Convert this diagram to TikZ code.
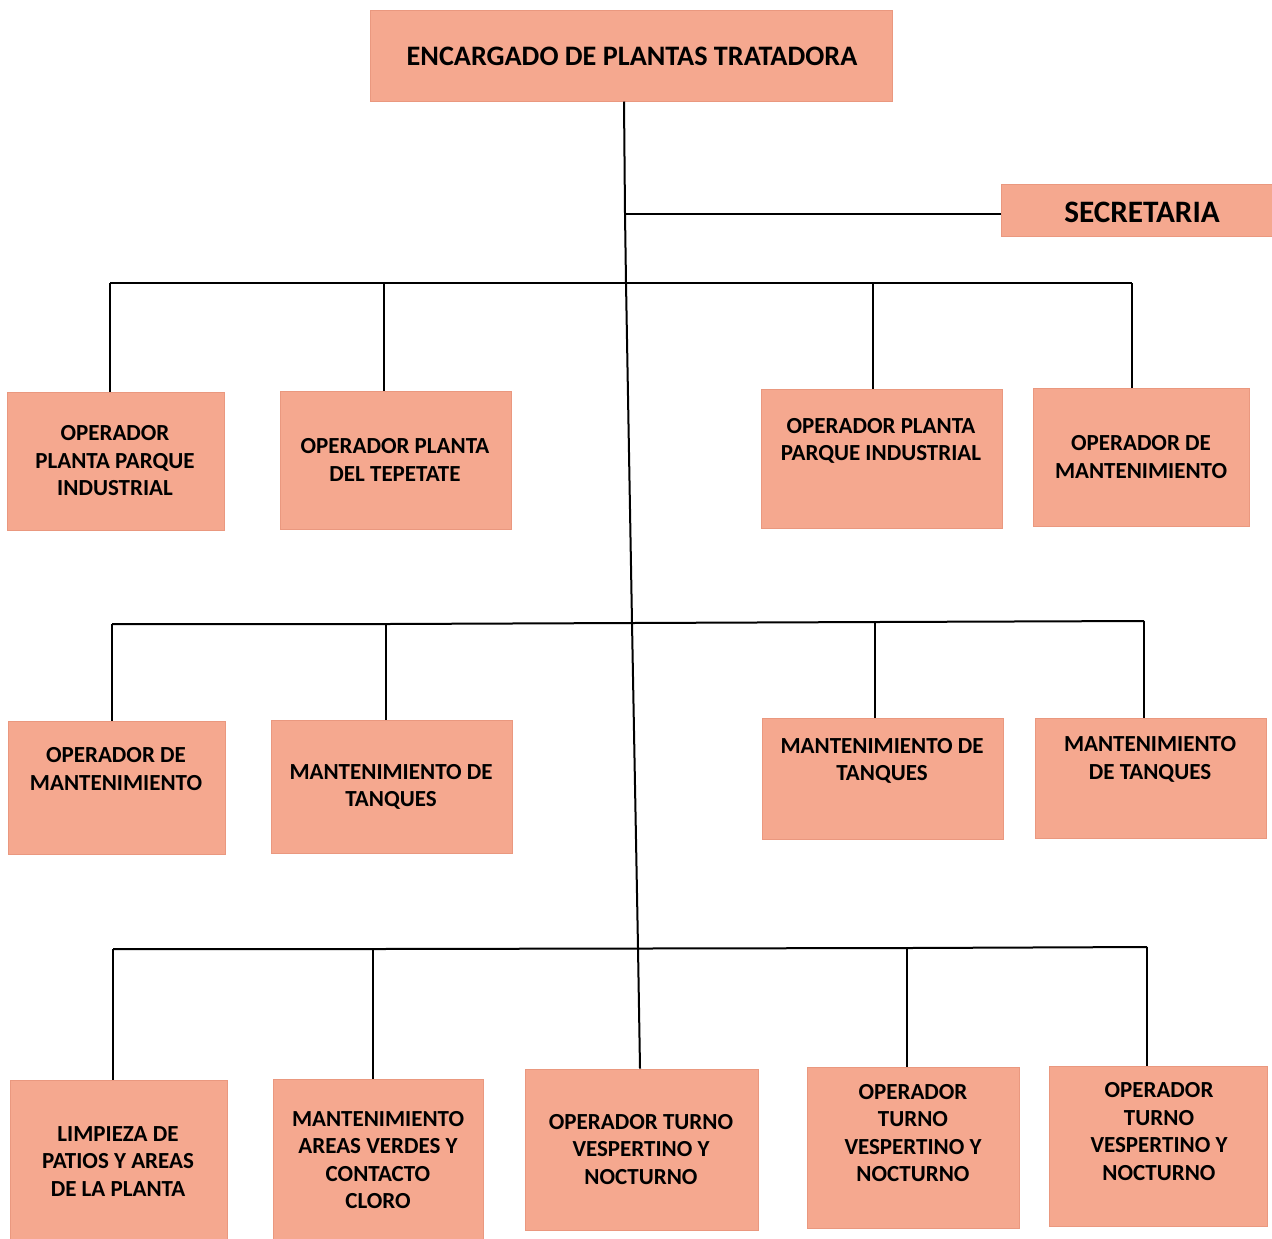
\documentclass[tikz,border=0pt]{standalone}
\usepackage{fontspec}
\setmainfont{Carlito}
\definecolor{boxfill}{RGB}{245,168,143}
\definecolor{boxline}{RGB}{234,152,127}
\begin{document}
\begin{tikzpicture}[x=0.5pt,y=-0.5pt,
  box/.style={draw=boxline, line width=0.5pt, fill=boxfill, rectangle, inner sep=0pt},
  lbl/.style={align=center, font=\bfseries\fontsize{11.5}{13.75}\selectfont, inner sep=0pt},
  big/.style={align=center, font=\bfseries\fontsize{14.1}{17}\selectfont, inner sep=0pt},
  bigger/.style={align=center, font=\bfseries\fontsize{15.6}{18}\selectfont, inner sep=0pt},
  conn/.style={line width=1pt, black}]
\useasboundingbox[fill=white] (0,0) rectangle (1272,1238);
% boxes
\node[box, minimum width=261pt, minimum height=45.5pt] (top) at (631,55.5) {};
\node[big] (ttop) at (632,56) {ENCARGADO DE PLANTAS TRATADORA};
\node[box, minimum width=135.5pt, minimum height=26pt] (sec) at (1136.5,210) {};
\node[bigger] (tsec) at (1142,212) {SECRETARIA};
% row 1
\node[box, minimum width=108.5pt, minimum height=69pt] (A) at (115.5,461) {};
\node[lbl] (tA) at (115,461) {OPERADOR\\PLANTA PARQUE\\INDUSTRIAL};
\node[box, minimum width=115.5pt, minimum height=69pt] (B) at (395.5,460) {};
\node[lbl] (tB) at (395,460) {OPERADOR PLANTA\\DEL TEPETATE};
\node[box, minimum width=120.5pt, minimum height=69.5pt] (C) at (881.5,458.5) {};
\node[lbl] (tC) at (881,441) {OPERADOR PLANTA\\PARQUE INDUSTRIAL};
\node[box, minimum width=108pt, minimum height=69pt] (D) at (1141,457) {};
\node[lbl] (tD) at (1141,457) {OPERADOR DE\\MANTENIMIENTO};
% row 2
\node[box, minimum width=108.5pt, minimum height=66.5pt] (E) at (116.5,787.5) {};
\node[lbl] (tE) at (116,769) {OPERADOR DE\\MANTENIMIENTO};
\node[box, minimum width=120.5pt, minimum height=66.5pt] (F) at (391.5,786.5) {};
\node[lbl] (tF) at (391,787) {MANTENIMIENTO DE\\TANQUES};
\node[box, minimum width=120.5pt, minimum height=60.5pt] (G) at (882.5,778.5) {};
\node[lbl] (tG) at (882,761) {MANTENIMIENTO DE\\TANQUES};
\node[box, minimum width=115.5pt, minimum height=60pt] (H) at (1150.5,778) {};
\node[lbl] (tH) at (1150,759.5) {MANTENIMIENTO\\DE TANQUES};
% row 3
\node[box, minimum width=108.5pt, minimum height=80pt] (I) at (118.5,1160) {};
\node[lbl] (tI) at (118,1161.5) {LIMPIEZA DE\\PATIOS Y AREAS\\DE LA PLANTA};
\node[box, minimum width=105pt, minimum height=80.5pt] (J) at (378,1159.5) {};
\node[lbl] (tJ) at (378,1160) {MANTENIMIENTO\\AREAS VERDES Y\\CONTACTO\\CLORO};
\node[box, minimum width=116.5pt, minimum height=80.5pt] (K) at (641.5,1149.5) {};
\node[lbl] (tK) at (641,1149.5) {OPERADOR TURNO\\VESPERTINO Y\\NOCTURNO};
\node[box, minimum width=106pt, minimum height=80.5pt] (L) at (913,1147.5) {};
\node[lbl] (tL) at (913,1133) {OPERADOR\\TURNO\\VESPERTINO Y\\NOCTURNO};
\node[box, minimum width=109pt, minimum height=80pt] (M) at (1158,1146) {};
\node[lbl] (tM) at (1159,1131.5) {OPERADOR\\TURNO\\VESPERTINO Y\\NOCTURNO};
% trunk
\coordinate (t0) at (624,101);
\coordinate (t1) at (625,214);
\coordinate (t2) at (626,283);
\coordinate (t3) at (632,623);
\coordinate (t4) at (638,948);
\coordinate (t5) at (640,1069);
\draw[conn] (t0 |- top.south) -- (t1) -- (t2) -- (t3) -- (t4) -- (t5 |- K.north);
\draw[conn] (t1) -- (t1 -| sec.west);
% bus 1
\coordinate (b1a) at (110,283);
\coordinate (b1b) at (384,283);
\coordinate (b1c) at (873,283);
\coordinate (b1d) at (1132,283);
\draw[conn] (b1a) -- (b1d);
\draw[conn] (b1a) -- (b1a |- A.north);
\draw[conn] (b1b) -- (b1b |- B.north);
\draw[conn] (b1c) -- (b1c |- C.north);
\draw[conn] (b1d) -- (b1d |- D.north);
% bus 2
\coordinate (b2a) at (112,624);
\coordinate (b2b) at (386,624);
\coordinate (b2c) at (875,622);
\coordinate (b2d) at (1144,621);
\draw[conn] (b2a) -- (b2b) -- (b2c) -- (b2d);
\draw[conn] (b2a) -- (b2a |- E.north);
\draw[conn] (b2b) -- (b2b |- F.north);
\draw[conn] (b2c) -- (b2c |- G.north);
\draw[conn] (b2d) -- (b2d |- H.north);
% bus 3
\coordinate (b3a) at (113,949);
\coordinate (b3b) at (373,949);
\coordinate (b3c) at (907,948);
\coordinate (b3d) at (1147,947);
\draw[conn] (b3a) -- (b3b) -- (b3c) -- (b3d);
\draw[conn] (b3a) -- (b3a |- I.north);
\draw[conn] (b3b) -- (b3b |- J.north);
\draw[conn] (b3c) -- (b3c |- L.north);
\draw[conn] (b3d) -- (b3d |- M.north);
\end{tikzpicture}
\end{document}
